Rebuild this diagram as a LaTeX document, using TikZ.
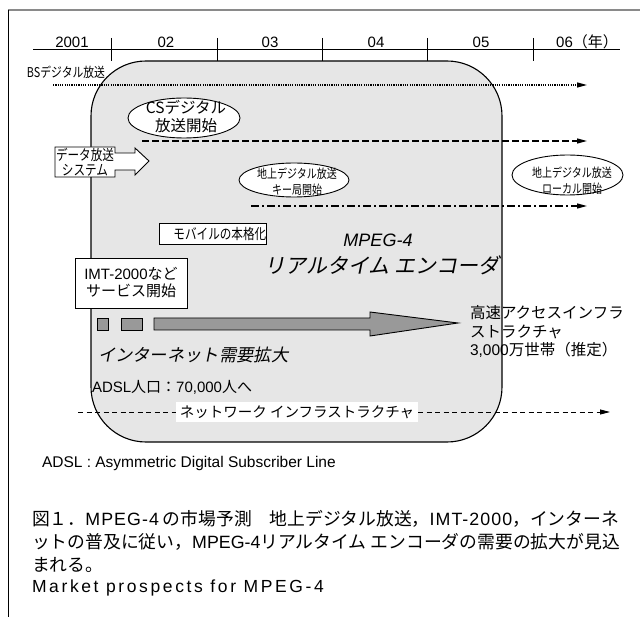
\documentclass[tikz,border=0pt]{standalone}
\usepackage{fontspec}
\setmainfont{Liberation Sans}
\newfontfamily\jp{Noto Sans CJK JP}
\newfontfamily\jpc[FakeStretch=0.8]{Noto Sans CJK JP}
\newfontfamily\jpi[FakeSlant=0.2]{Noto Sans CJK JP}
\newfontfamily\lat{Liberation Sans}
\newfontfamily\latsp[LetterSpace=15]{Liberation Sans}
\newfontfamily\latspa[LetterSpace=6]{Liberation Sans}
\usetikzlibrary{arrows.meta,shapes.geometric}
\newcommand\fsz[2]{\fontsize{#1}{#2}\selectfont}
\definecolor{boxgray}{HTML}{E6E6E6}
\definecolor{arrgray}{HTML}{999999}
\definecolor{framegray}{HTML}{8A8A8A}
\tikzset{
  txt/.style={inner sep=0pt, outer sep=0pt},
  tip/.style={-{Triangle[length=10pt,width=5pt]}},
  ell/.style={ellipse, draw, fill=white, line width=0.9pt, inner sep=0pt},
  wbox/.style={draw, fill=white, line width=0.9pt},
}
\begin{document}
\begin{tikzpicture}[x=1pt,y=-1pt]
\useasboundingbox (0,0) rectangle (640,617);
\fill[white] (0,0) rectangle (640,617);
% frame
\coordinate (frTL) at (8,10);
\coordinate (frTR) at (640,10);
\coordinate (frBL) at (8,617);
\draw[framegray, line width=1.5pt] (frTL) -- (frTR);
\draw[line width=1pt] (frTL) -- (frBL);

% big rounded box
\draw[fill=boxgray, line width=1.1pt, rounded corners=55pt] (91,61) rectangle (502,442);

% time axis
\coordinate (axL) at (33,50);
\coordinate (axR) at (620,50);
\draw[line width=1pt] (axL) -- (axR);
\foreach \x in {111,217,322,427,533}{
  \draw[line width=1pt] (\x,38) -- (\x,61);
}
\node[txt] (y01) at (72,42) {\fsz{15}{18}2001};
\node[txt] (y02) at (166,42) {\fsz{15}{18}02};
\node[txt] (y03) at (270,42) {\fsz{15}{18}03};
\node[txt] (y04) at (376,42) {\fsz{15}{18}04};
\node[txt] (y05) at (481,42) {\fsz{15}{18}05};
\node[txt] (y06) at (587,42) {\fsz{15}{18}06{\jp （年）}};

% BS digital
\node[txt, anchor=west] (bs) at (27,72) {\jpc\fsz{13.5}{16}BSデジタル放送};
\coordinate (bsL) at (53,85);
\coordinate (bsR) at (587,85);
\draw[tip, line width=1.2pt, dash pattern=on 1.2pt off 1.1pt] (bsL) -- (bsR);

% CS digital
\node[ell, minimum width=112pt, minimum height=40pt] (csE) at (184,118) {};
\node[txt, align=center, font=\jp\fsz{15.5}{18}] (csT) at (186,117) {CSデジタル\\放送開始};
\coordinate (csL) at (142,141);
\coordinate (csR) at (587,141);
\draw[tip, line width=1.3pt, dash pattern=on 6.5pt off 3.5pt] (csL) -- (csR);

% data broadcasting arrow
\draw[fill=white, line width=0.9pt] (55,147) -- (115,147) -- (115,153) -- (135,153) -- (135,148)
  -- (149,161) -- (135,175) -- (135,170) -- (115,170) -- (115,177) -- (55,177) -- cycle;
\node[txt, align=center, font=\jpc\fsz{14.5}{14.5}] (data) at (85,162) {データ放送\\システム};

% terrestrial key stations
\node[ell, minimum width=110pt, minimum height=34pt] (keyE) at (294,180) {};
\node[txt, align=center, font=\jpc\fsz{12.5}{16}] (keyT) at (297,181.5) {地上デジタル放送\\キー局開始};
% terrestrial local
\node[ell, minimum width=111pt, minimum height=40pt] (locE) at (567.5,175) {};
\node[txt, align=center, font=\jpc\fsz{12.5}{16}] (locT) at (572,181) {地上デジタル放送\\ローカル開始};
\coordinate (ddL) at (251,206);
\coordinate (ddR) at (587,206);
\draw[tip, line width=1.3pt, dash pattern=on 8pt off 3pt on 2pt off 3pt] (ddL) -- (ddR);

% mobile
\node[wbox, anchor=west, inner xsep=0pt, inner ysep=0pt, minimum height=21pt] (mob) at (159,233.5)
  {\hspace{14pt}\jpc\fsz{14.5}{16}モバイルの本格化\hspace{4pt}};

% MPEG-4 title
\node[txt] (mp1) at (378,240) {\fsz{18}{20}\itshape MPEG-4};
\node[txt] (mp2) at (382,265) {\jpi\fsz{21}{22}リアルタイム エンコーダ};

% IMT-2000
\node[wbox, minimum width=112pt, minimum height=50pt, align=center, inner sep=0pt, font=\fsz{15}{17}] (imt) at (131,283)
  {IMT-2000{\jp など}\\{\jp サービス開始}};

% internet arrow
\draw[fill=arrgray, line width=0.9pt] (97,318) rectangle (108,330);
\draw[fill=arrgray, line width=0.9pt] (121,318) rectangle (142,330);
\draw[fill=arrgray, line width=0.9pt] (154,318) -- (370,318) -- (370,312) -- (458,323) -- (370,336)
  -- (370,330) -- (154,330) -- cycle;
\node[txt, anchor=west] (net1) at (98,355) {\jpi\fsz{17.3}{19}インターネット需要拡大};
\node[txt, anchor=west] (adsl) at (92,387) {\fsz{15}{17}ADSL{\jp 人口：}70,000{\jp 人へ}};
\node[txt, anchor=west, align=left, font=\jp\fsz{15.5}{18.5}] (hs) at (470,331.5)
  {高速アクセスインフラ\\ストラクチャ\\{\lat 3,000}万世帯（推定）};

% network infrastructure
\coordinate (nwL) at (78,412);
\coordinate (nwR) at (610,412);
\draw[tip, line width=0.9pt, dash pattern=on 5pt off 3.5pt] (nwL) -- (nwR);
\node[fill=white, inner xsep=3.5pt, inner ysep=3pt] (nwT) at (297,412)
  {\jp\fsz{14.5}{16}ネットワーク インフラストラクチャ};

% footnote and caption
\node[txt, anchor=west] (fn) at (42,463) {\fsz{15.5}{17}ADSL : Asymmetric Digital Subscriber Line};
\node[txt, anchor=west] (c1) at (32,519)
  {\jp\fsz{17.8}{20}図１．{\latspa MPEG-4} の市場予測　地上デジタル放送，{\latspa IMT-2000}，インターネ};
\node[txt, anchor=west] (c2) at (32,542)
  {\jp\fsz{17.8}{20}ットの普及に従い，{\lat MPEG-4}リアルタイム エンコーダの需要の拡大が見込};
\node[txt, anchor=west] (c3) at (32,565) {\jp\fsz{17.8}{20}まれる。};
\node[txt, anchor=west] (c4) at (32,588) {\latsp\fsz{17.5}{20}Market prospects for MPEG-4};
\end{tikzpicture}
\end{document}
